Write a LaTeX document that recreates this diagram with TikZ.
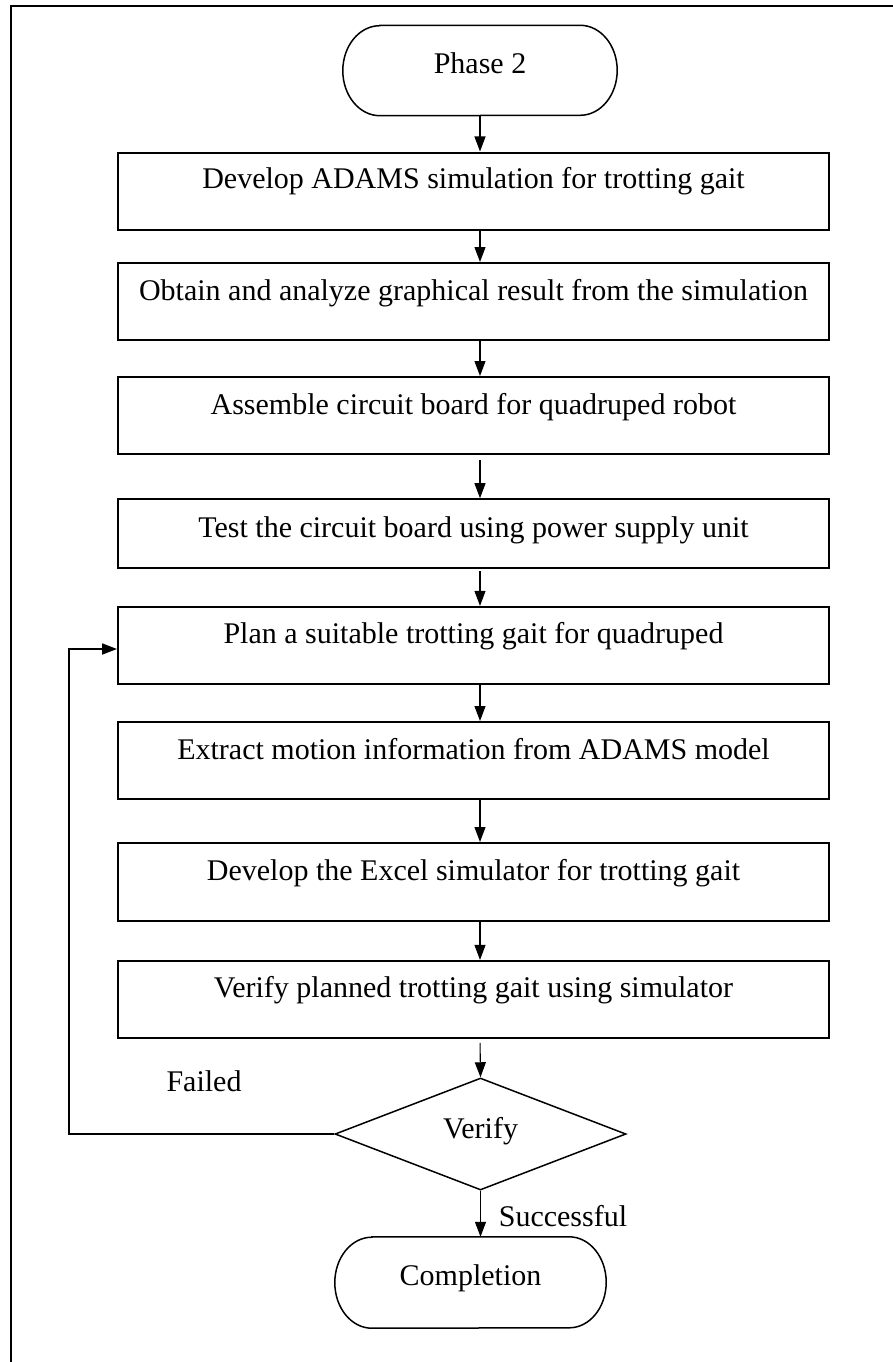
\documentclass[tikz,border=0pt]{standalone}
\usepackage{fontspec}
\setmainfont{Liberation Serif}
\usetikzlibrary{arrows.meta,shapes.geometric}

% stadium outline with half-elliptic ends round a named node
% #1 = node name, #2 = half of the node height
\newcommand\stadiumoutline[2]{%
  \draw[line width=1.5pt]
    ([xshift=37pt]#1.north west) -- ([xshift=-37pt]#1.north east)
    arc[start angle=90, end angle=-90, x radius=37pt, y radius=#2]
    -- ([xshift=37pt]#1.south west)
    arc[start angle=270, end angle=90, x radius=37pt, y radius=#2] -- cycle;}

\begin{document}
\begin{tikzpicture}[x=1pt,y=-1pt,
  every node/.style={font=\fontsize{30}{36}\selectfont, inner sep=0pt, text height=19.9pt, text depth=0pt},
  stepbox/.style={draw, line width=2pt, rectangle, minimum width=711pt},
  term/.style={rectangle},
  decide/.style={draw, line width=1.5pt, diamond, shape aspect=2.6,
                 minimum width=291pt, minimum height=112pt},
  lift/.style={text depth=#1},
  flow/.style={line width=1.1pt, -{Triangle[length=15pt,width=11pt]}},
  loopline/.style={line width=1.8pt, -{Triangle[length=15pt,width=11pt]}}
]
\useasboundingbox (0,0) rectangle (893,1362);

% page frame (only top and left edges are visible)
\draw[line width=1.5pt] (11,1370) -- (11,6) -- (900,6);

% terminators, process steps and decision
\node[term, minimum width=274pt, minimum height=90pt, lift=14pt] (start) at (480,70.5) {Phase 2};
\stadiumoutline{start}{45pt}

\node[stepbox, minimum height=77pt, lift=24pt] (b1) at (473.5,191)   {Develop ADAMS simulation for trotting gait};
\node[stepbox, minimum height=77pt, lift=22pt] (b2) at (473.5,301.5) {Obtain and analyze graphical result from the simulation};
\node[stepbox, minimum height=77pt, lift=22pt] (b3) at (473.5,415.5) {Assemble circuit board for quadruped robot};
\node[stepbox, minimum height=69pt, lift=12pt] (b4) at (473.5,533.7) {Test the circuit board using power supply unit};
\node[stepbox, minimum height=77pt, lift=24pt] (b5) at (473.5,645.4) {Plan a suitable trotting gait for quadruped};
\node[stepbox, minimum height=77pt, lift=22pt] (b6) at (473.5,760.5) {Extract motion information from ADAMS model};
\node[stepbox, minimum height=78pt, lift=22pt] (b7) at (473.5,882)   {Develop the Excel simulator for trotting gait};
\node[stepbox, minimum height=77pt, lift=24pt] (b8) at (473.5,999.4) {Verify planned trotting gait using simulator};

\node[decide, lift=10pt] (dec) at (480.5,1134) {Verify};

\node[term, minimum width=271pt, minimum height=91pt, lift=14pt] (end) at (470.5,1282.5) {Completion};
\stadiumoutline{end}{45.5pt}

% branch labels
\node (failed) at (204,1082) {Failed};
\node (success) at (563,1217) {Successful};

% main flow
\draw[flow] (start.south) -- (start.south |- b1.north);
\draw[flow] (b1.south -| start) -- (b2.north -| start);
\draw[flow] (b2.south -| start) -- (b3.north -| start);
\draw[flow, shorten <=5pt] (b3.south -| start) -- (b4.north -| start);
\draw[flow, shorten <=2pt] (b4.south -| start) -- (b5.north -| start);
\draw[flow] (b5.south -| start) -- (b6.north -| start);
\draw[flow] (b6.south -| start) -- (b7.north -| start);
\draw[flow] (b7.south -| start) -- (b8.north -| start);
\draw[flow, shorten <=4pt] (b8.south -| start) -- (dec.north);
\draw[flow] (dec.south) -- (dec.south |- end.north);

% feedback loop on failure
\coordinate (fb) at (69,649);
\draw[loopline] (dec.west) -| (fb) -- (b5.west |- fb);
\end{tikzpicture}
\end{document}
